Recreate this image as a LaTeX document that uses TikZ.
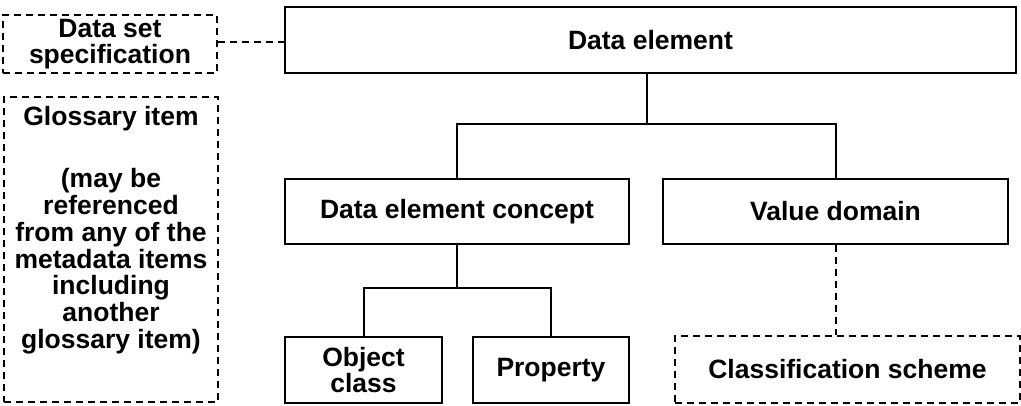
\documentclass[tikz,border=0pt]{standalone}
\usepackage{fontspec}
\setmainfont{Liberation Sans}
\begin{document}
\begin{tikzpicture}[x=1pt,y=-1pt,
  every node/.style={font=\fontsize{26.5}{26.7}\selectfont\bfseries, align=center, inner sep=0pt, line width=2pt},
  solidbox/.style={draw, rectangle},
  dashbox/.style={draw, rectangle, dash pattern=on 7pt off 5pt},
  tree/.style={draw, line width=2pt},
  dashline/.style={draw, line width=2pt, dash pattern=on 7pt off 5pt}]
\useasboundingbox (0,0) rectangle (1021,405);
\node[dashbox, minimum width=214pt, minimum height=58pt] (dss) at (110,44) {Data set\\specification};
\node[solidbox, minimum width=731pt, minimum height=66pt] (de) at (650.5,40) {Data element};
\node[dashbox, minimum width=214pt, minimum height=305pt] (gloss) at (111,249.5) {};
\node[anchor=north] (glosstext) at (111,105) {Glossary item\\[36pt](may be\\referenced\\from any of the\\metadata items\\including\\another\\glossary item)};
\node[solidbox, minimum width=344pt, minimum height=65pt] (dec) at (457,211.5) {Data element concept};
\node[solidbox, minimum width=345pt, minimum height=65pt] (vd) at (835.5,211.5) {Value domain};
\node[solidbox, minimum width=157pt, minimum height=66pt] (oc) at (363.5,370) {Object\\class};
\node[solidbox, minimum width=156pt, minimum height=66pt] (prop) at (551,370) {Property};
\node[dashbox, minimum width=345pt, minimum height=67pt] (cs) at (847.5,369.5) {Classification scheme};
\coordinate (barmid) at (646.5,124);
\coordinate (bar2) at (457,288);
\path[dashline] (dss.east |- 0,42) -- (de.west |- 0,42);
\path[tree] (de.south -| barmid) -- (barmid);
\path[tree] (dec.north) -- (dec.north |- barmid) -- (vd.north |- barmid) -- (vd.north);
\path[tree] (dec.south) -- (bar2);
\path[tree] (oc.north) -- (oc.north |- bar2) -- (prop.north |- bar2) -- (prop.north);
\path[dashline] (vd.south) -- (vd.south |- cs.north);
\end{tikzpicture}
\end{document}
